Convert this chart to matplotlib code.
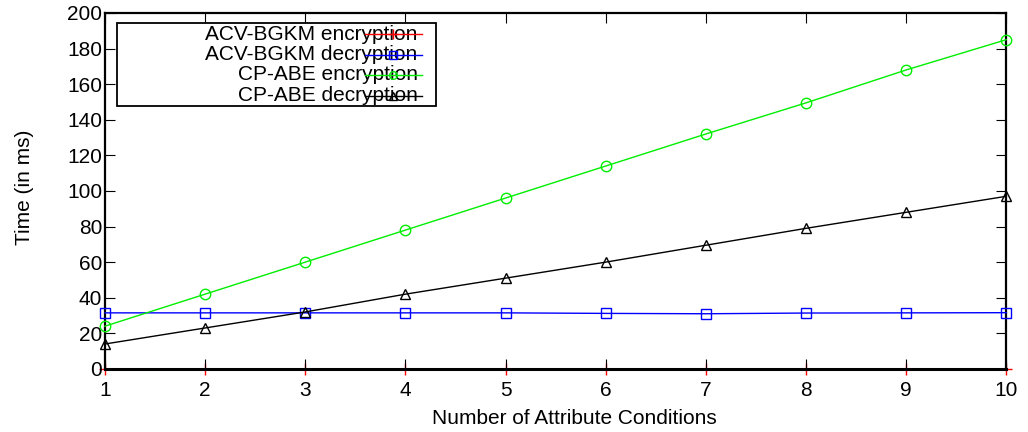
import matplotlib
matplotlib.use("Agg")
import matplotlib.pyplot as plt
from matplotlib.patches import Rectangle

plt.rcParams['font.family'] = ['Liberation Sans', 'DejaVu Sans']

# nombre de conditions d'attributs
x = [1, 2, 3, 4, 5, 6, 7, 8, 9, 10]

# temps en ms pour chaque serie
acv_enc = [0, 0, 0, 0, 0, 0, 0, 0, 0, 0]
acv_dec = [31.5, 31.5, 31.5, 31.5, 31.5, 31.2, 31, 31.4, 31.5, 31.6]
cpabe_enc = [24, 42, 60, 78, 96, 114, 132, 149.5, 168, 185]
cpabe_dec = [14, 23, 32, 42, 51, 60, 69.5, 79, 88, 97]

labels = ['ACV-BGKM encryption', 'ACV-BGKM decryption',
          'CP-ABE encryption', 'CP-ABE decryption']
colors = ['red', 'blue', '#00ee00', 'black']
markers = ['+', 's', 'o', '^']
sizes = [9, 7, 7.5, 6.5]
series = [acv_enc, acv_dec, cpabe_enc, cpabe_dec]

fig = plt.figure(figsize=(10.28, 4.32), dpi=100)
ax = fig.add_axes([0.102, 0.146, 0.877, 0.824])

for ys, c, m, ms, z in zip(series, colors, markers, sizes, [1, 3, 3, 3]):
    ax.plot(x, ys, lw=1, color=c, marker=m, markersize=ms, mfc='none',
            clip_on=False, zorder=z)

ax.set_xlim(1, 10)
ax.set_ylim(0, 200)
ax.set_xticks(x)
ax.set_yticks(range(0, 201, 20))
ax.tick_params(direction='in', top=True, right=True, length=7, labelsize=15)
ax.tick_params(axis='y', pad=2)
ax.tick_params(axis='x', pad=9)
for s in ax.spines.values():
    s.set_linewidth(1.6)
    s.set_zorder(2)
ax.spines['bottom'].set_linewidth(2.2)

ax.set_xlabel('Number of Attribute Conditions', fontsize=15)
ax.set_ylabel('Time (in ms)', fontsize=15)
ax.xaxis.set_label_coords(0.5205, -0.112)
ax.yaxis.set_label_coords(-0.079, 0.511)

# legende facon gnuplot : texte aligne a droite, echantillon a droite
ax.add_patch(Rectangle((0.0133, 0.739), 0.354, 0.233, transform=ax.transAxes,
                       fill=True, facecolor='white', edgecolor='black', lw=1.3, zorder=6))
rows = [0.940, 0.882, 0.826, 0.768]
for lab, c, m, yr in zip(labels, colors, markers, rows):
    ax.text(0.347, yr, lab, transform=ax.transAxes, ha='right', va='center',
            fontsize=15, zorder=7)
    ax.plot([0.2886, 0.352], [yr, yr], transform=ax.transAxes, lw=1,
            color=c, zorder=8, clip_on=False)
    ax.plot([0.3196], [yr], transform=ax.transAxes, lw=0, color=c, marker=m,
            markersize=5.5 if m != '+' else 7, mfc='none', zorder=8, clip_on=False)

fig.savefig('out.png', dpi=100)
